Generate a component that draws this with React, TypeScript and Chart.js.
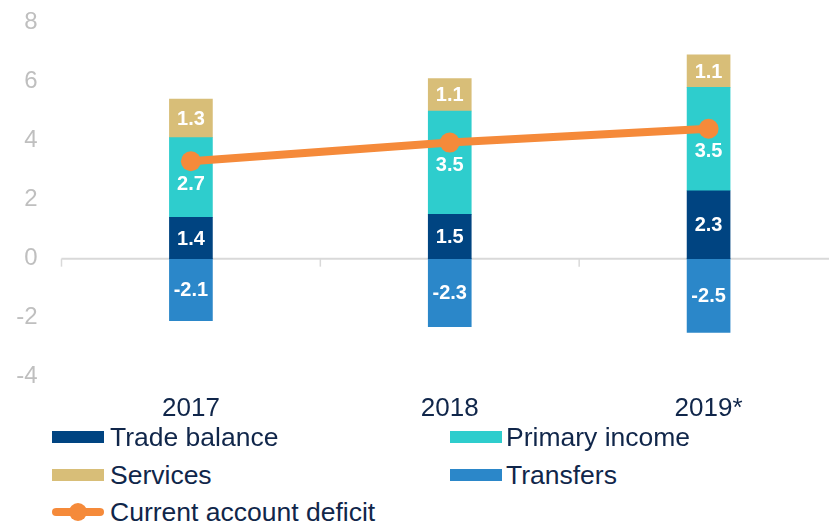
import React, { useEffect, useRef } from "react";
import { Chart, registerables } from "chart.js";

Chart.register(...registerables);

const categories = ["2017", "2018", "2019*"];
const tradeBalance = [1.4, 1.5, 2.3];
const primaryIncome = [2.7, 3.5, 3.5];
const services = [1.3, 1.1, 1.1];
const transfers = [-2.1, -2.3, -2.5];
const currentAccountDeficit = [3.3, 3.93, 4.4];
const yTicks = [-4, -2, 0, 2, 4, 6, 8];

const COLORS = {
  trade: "#004481",
  primary: "#2ECDCD",
  services: "#D8BE78",
  transfers: "#2B87C9",
  line: "#F58A3A",
  text: "#10264A",
  tick: "#BFBFBF",
};

const FONT = "'Liberation Sans', Arial, sans-serif";
const CW = 848;
const CH = 448;

const labelPlugin = {
  id: "barLabels",
  afterDatasetsDraw(chart: any) {
    const ctx = chart.ctx;
    const lineMeta = chart.getDatasetMeta(4);
    ctx.save();
    ctx.font = `bold 20px ${FONT}`;
    ctx.fillStyle = "#FFFFFF";
    ctx.textAlign = "center";
    ctx.textBaseline = "middle";
    for (let d = 0; d < 4; d++) {
      const meta = chart.getDatasetMeta(d);
      const data = chart.data.datasets[d].data as number[];
      meta.data.forEach((el: any, i: number) => {
        const top = Math.min(el.y, el.base);
        const bottom = Math.max(el.y, el.base);
        let y = (top + bottom) / 2;
        const pt = lineMeta.data[i] as any;
        if (pt && pt.y > top && pt.y < bottom && Math.abs(pt.y - y) < 22) {
          y = pt.y + 22;
        }
        ctx.fillText(data[i].toFixed(1), el.x, y + 1);
      });
    }
    ctx.restore();
  },
};

const zeroLinePlugin = {
  id: "zeroLine",
  beforeDatasetsDraw(chart: any) {
    const ctx = chart.ctx;
    const yScale = chart.scales.y;
    const y0 = yScale.getPixelForValue(0);
    const area = chart.chartArea;
    ctx.save();
    ctx.strokeStyle = "#D9D9D9";
    ctx.lineWidth = 2;
    ctx.beginPath();
    ctx.moveTo(area.left, y0);
    ctx.lineTo(area.right, y0);
    ctx.stroke();
    const n = categories.length;
    const step = (area.right - area.left) / n;
    ctx.lineWidth = 1.5;
    for (let i = 0; i <= n; i++) {
      const x = area.left + step * i;
      ctx.beginPath();
      ctx.moveTo(x, y0);
      ctx.lineTo(x, y0 + 8);
      ctx.stroke();
    }
    ctx.restore();
  },
};

function ChartView() {
  const ref = useRef<HTMLCanvasElement>(null);
  useEffect(() => {
    if (!ref.current) return;
    const chart = new Chart(ref.current, {
      type: "bar",
      data: {
        labels: categories,
        datasets: [
          { label: "Trade balance", data: tradeBalance, backgroundColor: COLORS.trade, order: 1, stack: "s" },
          { label: "Primary income", data: primaryIncome, backgroundColor: COLORS.primary, order: 1, stack: "s" },
          { label: "Services", data: services, backgroundColor: COLORS.services, order: 1, stack: "s" },
          { label: "Transfers", data: transfers, backgroundColor: COLORS.transfers, order: 1, stack: "s" },
          {
            type: "line",
            label: "Current account deficit",
            data: currentAccountDeficit,
            borderColor: COLORS.line,
            backgroundColor: COLORS.line,
            borderWidth: 8,
            pointRadius: 10,
            pointBackgroundColor: COLORS.line,
            pointBorderWidth: 0,
            order: 0,
            stack: "line",
          } as any,
        ],
      },
      options: {
        animation: false,
        responsive: false,
        maintainAspectRatio: false,
        devicePixelRatio: 1,
        layout: { padding: { top: 10, right: 0, left: 0, bottom: 0 } },
        datasets: { bar: { barThickness: 43 } },
        plugins: {
          legend: { display: false },
          tooltip: { enabled: false },
        },
        scales: {
          x: {
            stacked: true,
            grid: { display: false },
            border: { display: false },
            ticks: {
              color: COLORS.text,
              font: { family: FONT, size: 26 },
              padding: 8,
            },
          },
          y: {
            stacked: true,
            min: -4,
            max: 8,
            afterFit: (scale: any) => {
              scale.width = 61.5;
            },
            afterBuildTicks: (scale: any) => {
              scale.ticks = yTicks.map((v) => ({ value: v }));
            },
            grid: { display: false, drawTicks: false },
            border: { display: false },
            ticks: {
              color: COLORS.tick,
              font: { family: FONT, size: 24 },
              padding: 24,
            },
          },
        },
      },
      plugins: [zeroLinePlugin, labelPlugin],
    } as any);
    return () => chart.destroy();
  }, []);
  return <canvas ref={ref} width={CW} height={CH} style={{ display: "block", width: CW, height: CH }} />;
}

const legendItems = [
  { label: "Trade balance", color: COLORS.trade, col: 0, row: 0, line: false },
  { label: "Primary income", color: COLORS.primary, col: 1, row: 0, line: false },
  { label: "Services", color: COLORS.services, col: 0, row: 1, line: false },
  { label: "Transfers", color: COLORS.transfers, col: 1, row: 1, line: false },
  { label: "Current account deficit", color: COLORS.line, col: 0, row: 2, line: true },
];

export default function App() {
  const colX = [52, 450];
  const gap = [6, 4];
  const rowY = [437, 474.5, 512];
  return (
    <div
      style={{
        position: "fixed",
        left: 0,
        top: 0,
        width: 829,
        height: 524,
        overflow: "hidden",
        background: "#FFFFFF",
        fontFamily: FONT,
      }}
    >
      <div style={{ position: "absolute", left: 0, top: -16, width: CW, height: CH }}>
        <ChartView />
      </div>
      {legendItems.map((it) => (
        <div
          key={it.label}
          style={{
            position: "absolute",
            left: colX[it.col],
            top: rowY[it.row] - 16,
            height: 32,
            display: "flex",
            alignItems: "center",
            whiteSpace: "nowrap",
          }}
        >
          <div style={{ position: "relative", width: 52, height: 32, marginRight: gap[it.col] }}>
            {it.line ? (
              <>
                <div
                  style={{
                    position: "absolute",
                    left: 0,
                    top: 12,
                    width: 52,
                    height: 8,
                    borderRadius: 4,
                    background: it.color,
                  }}
                />
                <div
                  style={{
                    position: "absolute",
                    left: 17,
                    top: 7,
                    width: 18,
                    height: 18,
                    borderRadius: 9,
                    background: it.color,
                  }}
                />
              </>
            ) : (
              <div
                style={{
                  position: "absolute",
                  left: 0,
                  top: 10,
                  width: 52,
                  height: 12,
                  background: it.color,
                }}
              />
            )}
          </div>
          <span style={{ fontSize: 26.5, color: COLORS.text, lineHeight: "32px" }}>{it.label}</span>
        </div>
      ))}
    </div>
  );
}
